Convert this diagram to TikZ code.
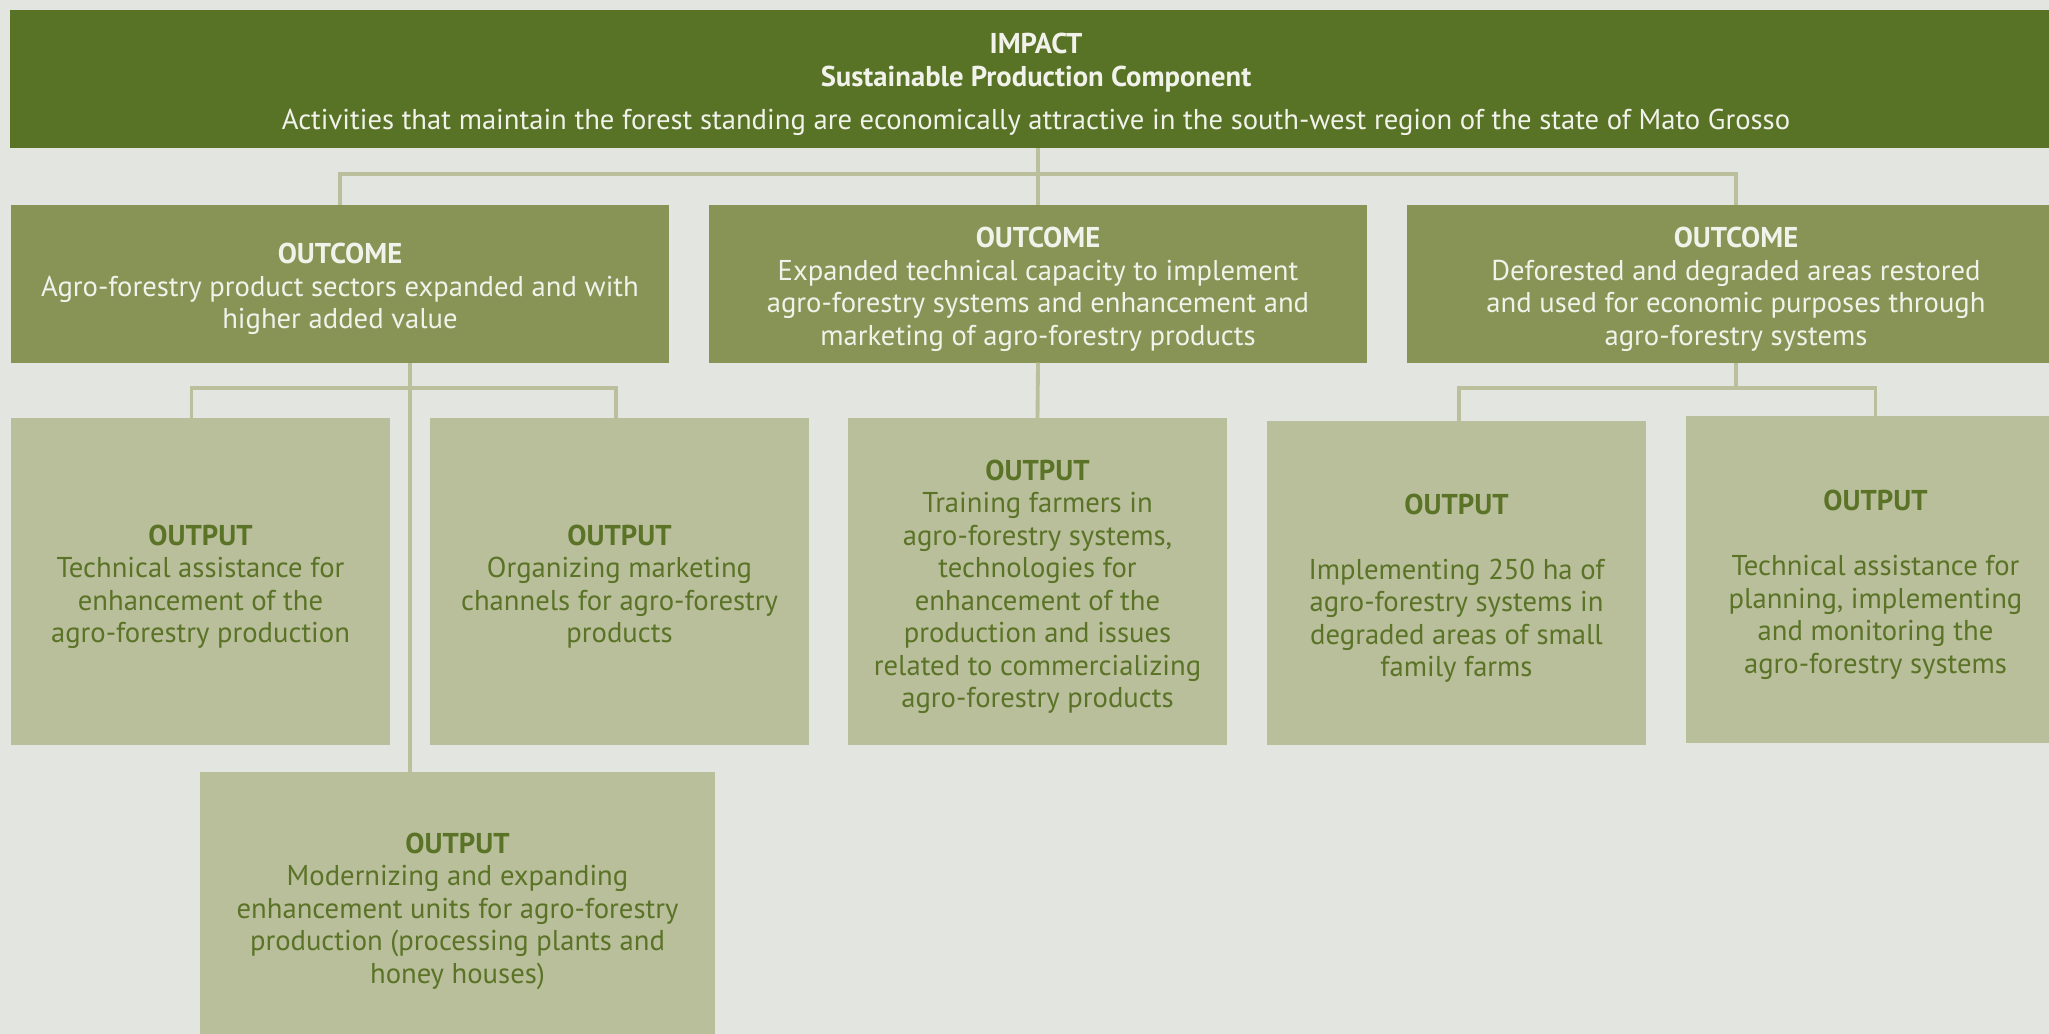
\documentclass[tikz,border=0pt]{standalone}
\usepackage{fontspec}
\setmainfont{PT Sans}
\usetikzlibrary{positioning}
\definecolor{bgC}{HTML}{E3E5E0}
\definecolor{impG}{HTML}{587226}
\definecolor{outcG}{HTML}{879456}
\definecolor{outpG}{HTML}{B9BE9B}
\definecolor{outpT}{HTML}{5A7326}
\definecolor{lineC}{HTML}{BBBF9C}
\definecolor{lightT}{HTML}{F1F2EA}
% heading line, with a strut so the block sits a little lower
\newcommand{\boxhead}[1]{\rule{0pt}{8.8pt}\textbf{#1}}
\tikzset{
  box/.style       ={inner sep=0pt, outer sep=0pt, align=center,
                     font=\fontsize{8.15}{9.25}\selectfont},
  impactbox/.style ={box, fill=impG, text=lightT,
                     minimum width=20.5cm, minimum height=1.38cm},
  outcomebox/.style={box, fill=outcG, text=lightT,
                     minimum width=6.58cm, minimum height=1.57cm},
  outputbox/.style ={box, fill=outpG, text=outpT,
                     minimum width=3.79cm, minimum height=3.27cm},
  link/.style      ={draw=lineC, line width=1.1pt},
}

\begin{document}
\begin{tikzpicture}[x=0.01cm, y=-0.01cm]

\useasboundingbox (0,0) rectangle (2049,1034);
\clip (0,0) rectangle (2049,1034);
\fill[bgC] (0,0) rectangle (2049,1034);

% impact
\node[impactbox] (imp) at (1036,79)
  {\boxhead{IMPACT}\\\textbf{Sustainable Production Component}\\[3pt]
   Activities that maintain the forest standing are economically attractive in the south-west region of the state of Mato Grosso};

% outcomes
\node[outcomebox] (oc1) at (340,284)
  {\boxhead{OUTCOME}\\Agro-forestry product sectors expanded and with\\higher added value};
\node[outcomebox] (oc2) at (1038,284)
  {\boxhead{OUTCOME}\\Expanded technical capacity to implement\\agro-forestry systems and enhancement and\\marketing of agro-forestry products};
\node[outcomebox] (oc3) at (1736,284)
  {\boxhead{OUTCOME}\\Deforested and degraded areas restored\\and used for economic purposes through\\agro-forestry systems};

% outputs
\node[outputbox] (out1) at (200.5,581.5)
  {\boxhead{OUTPUT}\\Technical assistance for\\enhancement of the\\agro-forestry production};
\node[outputbox] (out2) at (619.5,581.5)
  {\boxhead{OUTPUT}\\Organizing marketing\\channels for agro-forestry\\products};
\node[outputbox] (out3) at (1037.5,581.5)
  {\boxhead{OUTPUT}\\Training farmers in\\agro-forestry systems,\\technologies for\\enhancement of the\\production and issues\\related to commercializing\\agro-forestry products};
\node[outputbox, minimum height=3.24cm] (out4) at (1456.5,583)
  {\boxhead{OUTPUT}\\[9.25pt]Implementing 250 ha of\\agro-forestry systems in\\degraded areas of small\\family farms};
\node[outputbox] (out5) at (1875.5,579.5)
  {\boxhead{OUTPUT}\\[9.25pt]Technical assistance for\\planning, implementing\\and monitoring the\\agro-forestry systems};
\node[outputbox, minimum width=5.15cm, minimum height=2.68cm] (out6) at (457.5,906)
  {\boxhead{OUTPUT}\\Modernizing and expanding\\enhancement units for agro-forestry\\production (processing plants and\\honey houses)};

% connectors
\coordinate (busTop) at (1036,174);
\draw[link] (imp.south -| oc2.north) -- (oc2.north);
\draw[link] (oc1.north) |- (busTop) -| (oc3.north);

\coordinate (busL) at (410,388);
\draw[link] (oc1.south -| busL) -- (out6.north -| busL);
\draw[link] ([xshift=-0.09cm]out1.north) |- (busL) -| ([xshift=-0.035cm]out2.north);

\draw[link] (oc2.south) -- (out3.north);

\coordinate (busR) at (1736,388);
\draw[link] (oc3.south) -- (busR);
\draw[link] ([xshift=0.025cm]out4.north) |- (busR) -| (out5.north);

\end{tikzpicture}
\end{document}
